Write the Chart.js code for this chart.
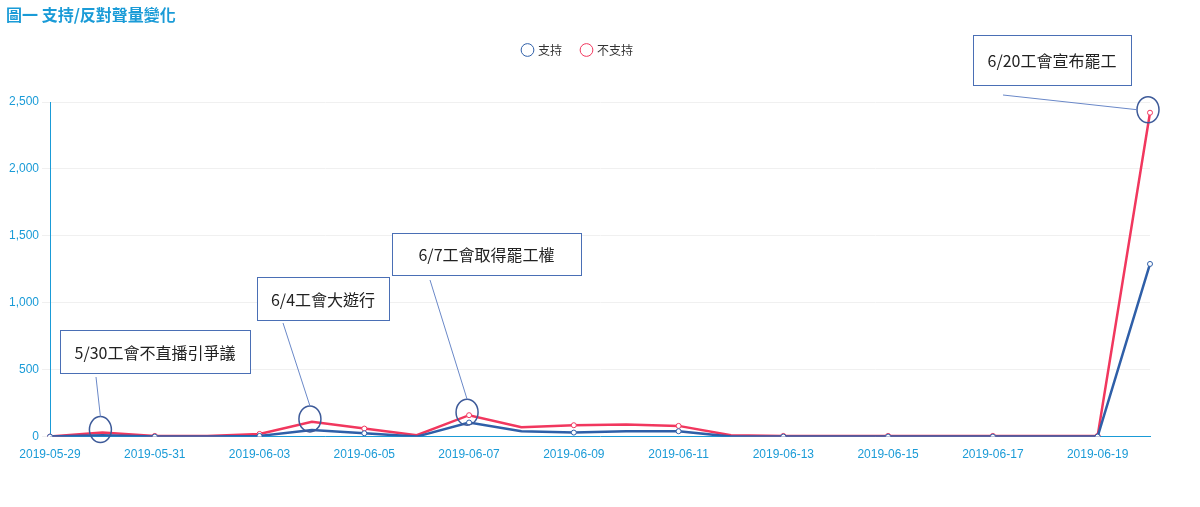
<!DOCTYPE html>
<html><head><meta charset="utf-8">
<script src="https://cdn.jsdelivr.net/npm/chart.js@4"></script>
<style>
html,body{margin:0;padding:0;background:#fff;font-family:"Noto Sans CJK TC","Noto Sans",sans-serif}
#t{position:absolute;left:6px;top:2px;color:#1a9bd7;font-weight:bold;font-size:16px}
#w{position:absolute;left:0;top:0;width:1200px;height:507px}
</style></head><body>
<div id="w"><canvas id="c"></canvas></div>
<div id="t">圖一 支持/反對聲量變化</div>
<script>
const categories=["2019-05-29","2019-05-30","2019-05-31","2019-06-02","2019-06-03","2019-06-04","2019-06-05","2019-06-06","2019-06-07","2019-06-08","2019-06-09","2019-06-10","2019-06-11","2019-06-12","2019-06-13","2019-06-14","2019-06-15","2019-06-16","2019-06-17","2019-06-18","2019-06-19","2019-06-20"];
const support=[0,10,0,0,5,50,25,0,105,40,30,40,40,0,0,0,0,0,0,0,0,1290];
const oppose=[0,30,5,5,20,110,60,10,160,70,85,90,80,10,5,5,5,5,5,5,5,2420];
const yTicks=[0,500,1000,1500,2000,2500];
const notes=[
 {i:1,text:"5/30工會不直播引爭議",box:[60,330,190,43],from:[96,377]},
 {i:5,text:"6/4工會大遊行",box:[257,277,132,43],from:[283,323]},
 {i:8,text:"6/7工會取得罷工權",box:[392,233,189,42],from:[430,280]},
 {i:21,text:"6/20工會宣布罷工",box:[973,35,158,50],from:[1003,95]}
];
const annot={id:'annot',afterDatasetsDraw(ch){
 const c=ch.ctx,xs=ch.scales.x,ys=ch.scales.y;
 c.save();
 notes.forEach(n=>{
  const px=xs.getPixelForValue(n.i),py=ys.getPixelForValue(oppose[n.i]);
  c.strokeStyle='#3d5a99';c.lineWidth=1.5;
  c.beginPath();c.ellipse(px-2,py-3,11,13,0,0,Math.PI*2);c.stroke();
  c.strokeStyle='#6a88c8';c.lineWidth=1;
  c.beginPath();c.moveTo(n.from[0],n.from[1]);
  if(n.i===21)c.lineTo(px-13,py-3);else c.lineTo(px-2,py-16);c.stroke();
  const[b0,b1,b2,b3]=n.box;
  c.fillStyle='#fff';c.fillRect(b0,b1,b2,b3);
  c.strokeStyle='#4a6fb5';c.strokeRect(b0+.5,b1+.5,b2,b3);
  c.fillStyle='#222';c.font='16px "Noto Sans CJK TC"';c.textAlign='center';c.textBaseline='middle';
  c.fillText(n.text,b0+b2/2,b1+b3/2+1);
 });
 c.restore();
}};
const legendSpace={id:'legendSpace',beforeInit(ch){const f=ch.legend.fit;ch.legend.fit=function(){f.bind(ch.legend)();this.height+=36;};}};
const pr=categories.map((_,i)=>i%2===0||i===21?2.5:0);
new Chart(document.getElementById('c'),{type:'line',
 data:{labels:categories,datasets:[
  {label:'支持',data:support,borderColor:'#2f5fa8',backgroundColor:'#fff',borderWidth:2.5,pointRadius:pr,pointBorderWidth:1,tension:0},
  {label:'不支持',data:oppose,borderColor:'#f1375e',backgroundColor:'#fff',borderWidth:2.5,pointRadius:pr,pointBorderWidth:1,tension:0}]},
 options:{responsive:true,maintainAspectRatio:false,animation:false,
  layout:{padding:{left:6,right:50,top:24,bottom:42}},
  plugins:{tooltip:{enabled:false},legend:{position:'top',labels:{usePointStyle:true,pointStyle:'circle',boxWidth:9,boxHeight:9,color:'#333',font:{size:12,family:'"Noto Sans CJK TC"'},padding:20}}},
  scales:{
   x:{offset:false,grid:{display:false},border:{color:'#1a9bd7'},ticks:{color:'#1a9bd7',maxRotation:0,autoSkip:false,font:{size:12},callback:(v,i)=>i%2===0&&i!==21?categories[i]:''}},
   y:{min:0,max:2500,afterBuildTicks:a=>{a.ticks=yTicks.map(v=>({value:v}))},grid:{color:'#f0f0f0'},border:{color:'#1a9bd7'},ticks:{color:'#1a9bd7',font:{size:12},callback:v=>v.toLocaleString('en-US')}}
  }},
 plugins:[annot,legendSpace]});
</script></body></html>
